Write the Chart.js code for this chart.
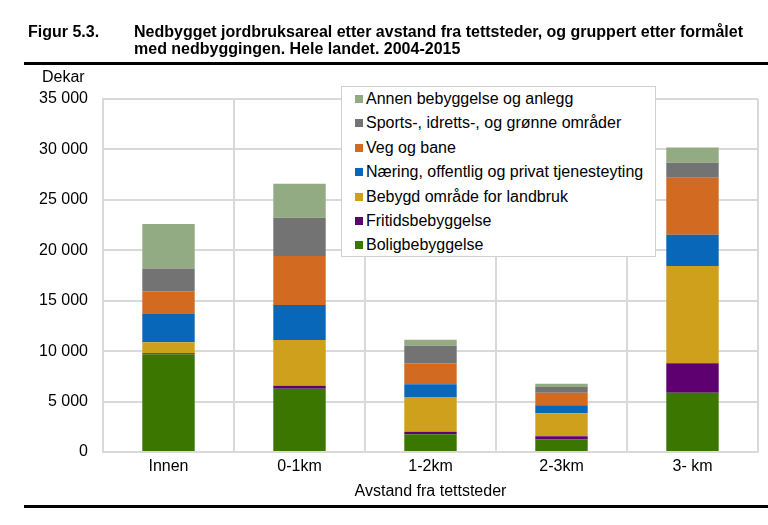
<!DOCTYPE html>
<html>
<head>
<meta charset="utf-8">
<script src="https://cdn.jsdelivr.net/npm/chart.js@4"></script>
<style>
  html, body { margin: 0; padding: 0; background: #fff; }
  body { width: 768px; height: 525px; position: relative; overflow: hidden;
         font-family: "Liberation Sans", Arial, sans-serif; color: #000; }
  #wrap { position: absolute; left: 0; top: 0; width: 768px; height: 525px; }
  .title { position: absolute; top: 23px; font-weight: bold; font-size: 16px; line-height: 17px; }
  .rule { position: absolute; left: 24px; right: 0; height: 3px; background: #000; }
  #unit { position: absolute; left: 42px; top: 68px; font-size: 16px; }
  #legend { position: absolute; left: 341px; top: 86px; width: 313px; height: 169px;
            background: #fff; border: 1px solid #d0d0d0; font-size: 16px; }
  #legend div { position: absolute; left: 13px; white-space: nowrap; line-height: 18px; }
  #legend span { display: inline-block; width: 8px; height: 8px; margin-right: 3px; vertical-align: 1px; }
</style>
</head>
<body>
<div id="wrap"><canvas id="chart" width="768" height="525"></canvas></div>
<div class="title" style="left:28px">Figur 5.3.</div>
<div class="title" style="left:134px">Nedbygget jordbruksareal etter avstand fra tettsteder, og gruppert etter formålet<br>med nedbyggingen. Hele landet. 2004-2015</div>
<div class="rule" style="top:62px"></div>
<div class="rule" style="top:505px"></div>
<div id="unit">Dekar</div>
<div id="legend"></div>
<script>
// kategorier og serier (dekar)
const categories = ['Innen', '0-1km', '1-2km', '2-3km', '3- km'];
const seriesNames = [
  'Boligbebyggelse',
  'Fritidsbebyggelse',
  'Bebygd område for landbruk',
  'Næring, offentlig og privat tjenesteyting',
  'Veg og bane',
  'Sports-, idretts-, og grønne områder',
  'Annen bebyggelse og anlegg',
];
const bolig    = [9700, 6270, 1750, 1260, 5880];
const fritid   = [100, 300, 260, 300, 2910];
const landbruk = [1070, 4530, 3440, 2280, 9640];
const naering  = [2810, 3470, 1260, 790, 3110];
const veg      = [2250, 4860, 2080, 1250, 5650];
const sports   = [2270, 3790, 1750, 560, 1480];
const annen    = [4400, 3380, 590, 330, 1530];
const yTicks = [0, 5000, 10000, 15000, 20000, 25000, 30000, 35000];

const seriesValues = [bolig, fritid, landbruk, naering, veg, sports, annen];
const seriesColors = ['#3b7600', '#5e006f', '#cfa01c', '#0867b8', '#d26a21', '#737373', '#93ab83'];

/**
 * tusenskille med mellomrom: 35000 -> "35 000"
 */
function fmt(v) {
  return String(v).replace(/\B(?=(\d{3})+(?!\d))/g, ' ');
}

const datasets = seriesNames.map((name, i) => ({
  label: name,
  data: seriesValues[i],
  backgroundColor: seriesColors[i],
  borderWidth: 0,
  categoryPercentage: 1,
  barPercentage: 0.4,
}));

// legende (omvendt rekkefølge, som i figuren)
const legend = document.getElementById('legend');
[...seriesNames].reverse().forEach((name, k) => {
  const i = seriesNames.length - 1 - k;
  const row = document.createElement('div');
  row.style.top = (3 + k * 24.4) + 'px';
  row.innerHTML = `<span style="background:${seriesColors[i]}"></span>${name}`;
  legend.appendChild(row);
});

const font = { family: '"Liberation Sans", Arial, sans-serif', size: 16 };
const gridColor = '#d9d9d9';

new Chart(document.getElementById('chart').getContext('2d'), {
  type: 'bar',
  data: { labels: categories, datasets },
  options: {
    responsive: false,
    animation: false,
    layout: { padding: { left: 0, right: 10, top: 99, bottom: 20 } },
    plugins: { legend: { display: false }, tooltip: { enabled: false } },
    scales: {
      x: {
        stacked: true,
        grid: { color: gridColor, lineWidth: 2, drawTicks: false, offset: true },
        border: { color: gridColor, width: 2 },
        ticks: { color: '#000', font, padding: 5 },
        title: { display: true, text: 'Avstand fra tettsteder', color: '#000', font, padding: { top: 2 } },
        afterFit: (s) => { s.height = 53; },
      },
      y: {
        stacked: true,
        min: 0,
        max: 35000,
        afterBuildTicks: (s) => { s.ticks = yTicks.map(v => ({ value: v })); },
        grid: { color: gridColor, lineWidth: 2, drawTicks: false },
        border: { color: gridColor, width: 2 },
        ticks: { color: '#000', font, padding: 15, callback: (v) => fmt(v) },
        afterFit: (s) => { s.width = 103; },
      },
    },
  },
});
</script>
</body>
</html>
